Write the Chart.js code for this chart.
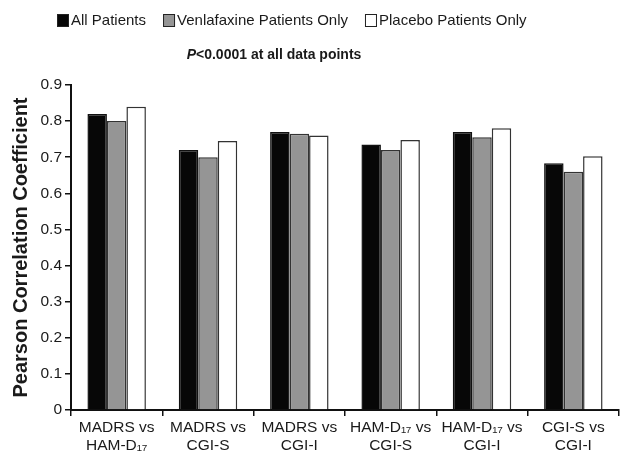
<!DOCTYPE html>
<html>
<head>
<meta charset="utf-8">
<script src="https://cdn.jsdelivr.net/npm/chart.js@4"></script>
<style>
  html, body { margin: 0; padding: 0; background: #fff; }
  #wrap { width: 637px; height: 456px; }
</style>
</head>
<body>
<div id="wrap"><canvas id="corr-chart"></canvas></div>
<script>
const categories = [
  ['MADRS vs', 'HAM-D₁₇'],
  ['MADRS vs', 'CGI-S'],
  ['MADRS vs', 'CGI-I'],
  ['HAM-D₁₇ vs', 'CGI-S'],
  ['HAM-D₁₇ vs', 'CGI-I'],
  ['CGI-S vs', 'CGI-I'],
];
const allPatients = [0.82, 0.72, 0.77, 0.735, 0.77, 0.683];
const venlafaxineOnly = [0.80, 0.70, 0.765, 0.72, 0.755, 0.66];
const placeboOnly = [0.84, 0.745, 0.76, 0.748, 0.78, 0.703];
const yTicks = [0, 0.1, 0.2, 0.3, 0.4, 0.5, 0.6, 0.7, 0.8, 0.9];

const FONT = '"Liberation Sans", Arial, sans-serif';
const INK = '#1a1a1a';

// legend row + subtitle drawn by hand so spacing matches the figure
const headerPlugin = {
  id: 'header',
  afterDraw(chart) {
    const ctx = chart.ctx;
    ctx.save();
    ctx.font = '15px ' + FONT;
    ctx.textBaseline = 'middle';
    let x = 57;
    chart.data.datasets.forEach(ds => {
      ctx.fillStyle = ds.backgroundColor;
      ctx.fillRect(x, 14, 12, 13);
      ctx.strokeStyle = '#222';
      ctx.lineWidth = 1;
      ctx.strokeRect(x + 0.5, 14.5, 11, 12);
      ctx.fillStyle = INK;
      ctx.fillText(ds.label, x + 14, 21);
      x += 14 + ctx.measureText(ds.label).width + 17;
    });

    const p = 'P';
    const rest = '<0.0001 at all data points';
    ctx.font = 'italic bold 14px ' + FONT;
    const wp = ctx.measureText(p).width;
    ctx.font = 'bold 14px ' + FONT;
    const wr = ctx.measureText(rest).width;
    let sx = 274 - (wp + wr) / 2;
    ctx.font = 'italic bold 14px ' + FONT;
    ctx.fillText(p, sx, 55);
    ctx.font = 'bold 14px ' + FONT;
    ctx.fillText(rest, sx + wp, 55);
    ctx.restore();
  }
};

new Chart(document.getElementById('corr-chart'), {
  type: 'bar',
  data: {
    labels: categories,
    datasets: [
      {
        label: 'All Patients',
        data: allPatients,
        backgroundColor: '#070707',
        borderColor: '#111',
        borderWidth: 1.5,
      },
      {
        label: 'Venlafaxine Patients Only',
        data: venlafaxineOnly,
        backgroundColor: '#959595',
        borderColor: '#333',
        borderWidth: 1.5,
      },
      {
        label: 'Placebo Patients Only',
        data: placeboOnly,
        backgroundColor: '#ffffff',
        borderColor: '#333',
        borderWidth: 1.5,
      },
    ],
  },
  options: {
    responsive: true,
    maintainAspectRatio: false,
    animation: false,
    datasets: {
      bar: {
        categoryPercentage: 0.64,
        barPercentage: 1.0,
      },
    },
    layout: {
      padding: { top: 85, right: 18, left: 9, bottom: 0 },
    },
    plugins: {
      legend: { display: false },
      tooltip: { enabled: false },
    },
    scales: {
      x: {
        grid: {
          drawOnChartArea: false,
          drawTicks: true,
          tickLength: 6,
          color: '#111',
          lineWidth: 1.5,
        },
        border: { display: true, color: '#111', width: 2 },
        ticks: {
          color: INK,
          font: { family: FONT, size: 15.5 },
          padding: 2,
          maxRotation: 0,
        },
        afterFit(scale) {
          scale.height = 46;
        },
      },
      y: {
        min: 0,
        max: 0.9,
        afterBuildTicks(scale) {
          scale.ticks = yTicks.map(v => ({ value: v }));
        },
        grid: {
          drawOnChartArea: false,
          drawTicks: true,
          tickLength: 6,
          color: '#111',
          lineWidth: 1.5,
        },
        border: { display: true, color: '#111', width: 2 },
        ticks: {
          color: INK,
          font: { family: FONT, size: 15.5 },
          padding: 3,
          callback: v => (v === 0 ? '0' : Number(v).toFixed(1)),
        },
        title: {
          display: true,
          text: 'Pearson Correlation Coefficient',
          color: INK,
          font: { family: FONT, size: 20, weight: 'bold' },
          padding: { top: 0, bottom: 4 },
        },
        afterFit(scale) {
          scale.width = 62;
        },
      },
    },
  },
  plugins: [headerPlugin],
});
</script>
</body>
</html>
